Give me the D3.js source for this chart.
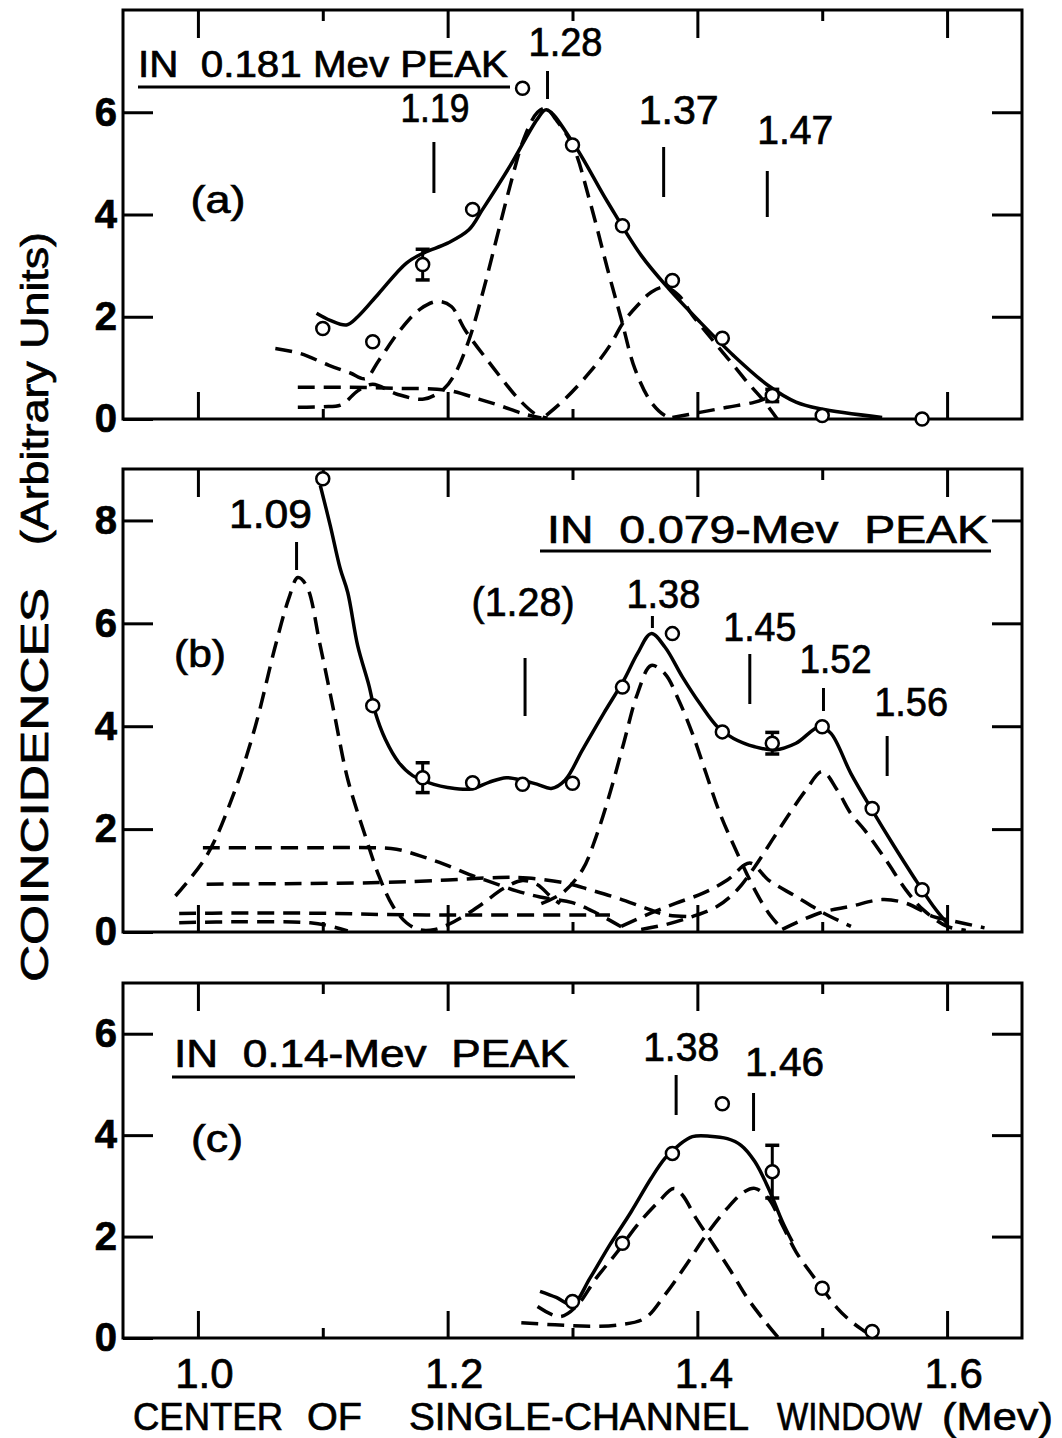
<!DOCTYPE html>
<html>
<head>
<meta charset="utf-8">
<script src="https://cdn.jsdelivr.net/npm/d3@7/dist/d3.min.js"></script>
<style>
  body { margin: 0; background: #fff; }
  text { font-family: "Liberation Sans", Arial, sans-serif; fill: #000; stroke: #000; stroke-width: 0.7px; white-space: pre; }
</style>
</head>
<body>
<div id="chart"></div>
<script>
// shared x axis
var xMajor = [1.0, 1.2, 1.4, 1.6];
var xMinor = [1.1, 1.3, 1.5];

// ---- panel (a): in 0.181 Mev peak
var aYTicks = [0, 2, 4, 6];
var aPoints = [[1.10,1.77],[1.14,1.51],[1.18,3.02],[1.22,4.10],[1.26,6.47],[1.30,5.36],[1.34,3.78],[1.38,2.71],[1.42,1.58],[1.46,0.46],[1.50,0.07],[1.58,0.0]];
var aErrors = [[1.18,3.02,0.3],[1.46,0.46,0.12]];
var aSolid = [[1.095,2.07],[1.106,1.93],[1.119,1.84],[1.128,2.0],[1.145,2.46],[1.167,3.05],[1.181,3.25],[1.2,3.44],[1.217,3.7],[1.228,4.1],[1.25,4.95],[1.272,5.87],[1.279,6.05],[1.3,5.42],[1.328,4.25],[1.355,3.2],[1.377,2.55],[1.402,1.9],[1.429,1.24],[1.457,0.65],[1.479,0.33],[1.498,0.2],[1.548,0.03]];
var aDashed = [
  [[1.062,1.38],[1.082,1.28],[1.105,1.05],[1.122,0.9],[1.134,0.79],[1.145,1.15],[1.162,1.74],[1.178,2.15],[1.192,2.3],[1.203,2.2],[1.214,1.74],[1.236,1.02],[1.258,0.36],[1.272,0.07],[1.28,0.02]],
  [[1.08,0.62],[1.12,0.62],[1.16,0.6],[1.2,0.56],[1.225,0.39],[1.242,0.26],[1.261,0.1],[1.275,0.02]],
  [[1.08,0.23],[1.1,0.24],[1.115,0.28],[1.128,0.55],[1.14,0.68],[1.159,0.49],[1.181,0.39],[1.197,0.59],[1.206,0.89],[1.217,1.54],[1.228,2.46],[1.239,3.51],[1.25,4.56],[1.261,5.48],[1.272,6.0],[1.279,6.08],[1.286,5.88],[1.30,5.36],[1.314,4.25],[1.328,2.94],[1.339,1.96],[1.35,0.98],[1.363,0.33],[1.374,0.07],[1.38,0.03]],
  [[1.279,0.07],[1.294,0.39],[1.314,0.92],[1.33,1.44],[1.341,1.9],[1.352,2.22],[1.363,2.48],[1.374,2.58],[1.385,2.42],[1.396,2.03],[1.407,1.7],[1.418,1.37],[1.429,1.05],[1.44,0.72],[1.452,0.39],[1.464,0.0]],
  [[1.38,0.03],[1.402,0.13],[1.424,0.23],[1.446,0.33],[1.46,0.45]]
];
var aPeakLabels = ["1.19", "1.28", "1.37", "1.47"];
var aPeakAt = [1.189, 1.280, 1.373, 1.456];

// ---- panel (b): in 0.079-Mev peak
var bYTicks = [0, 2, 4, 6, 8];
var bPoints = [[1.10,8.81],[1.14,4.40],[1.18,3.0],[1.22,2.9],[1.26,2.87],[1.30,2.89],[1.34,4.76],[1.38,5.8],[1.42,3.89],[1.46,3.67],[1.50,3.99],[1.54,2.40],[1.58,0.82]];
var bErrors = [[1.18,3.0,0.29],[1.46,3.67,0.21]];
var bSolid = [[1.098,8.68],[1.106,7.9],[1.114,7.06],[1.12,6.6],[1.128,5.56],[1.137,4.79],[1.142,4.27],[1.15,3.75],[1.161,3.29],[1.172,3.04],[1.189,2.87],[1.2,2.81],[1.219,2.78],[1.233,2.91],[1.247,3.0],[1.261,2.94],[1.272,2.87],[1.283,2.79],[1.294,2.95],[1.308,3.54],[1.325,4.25],[1.341,4.89],[1.352,5.41],[1.363,5.8],[1.374,5.54],[1.388,4.96],[1.402,4.44],[1.416,3.99],[1.429,3.76],[1.446,3.6],[1.462,3.54],[1.479,3.67],[1.498,3.99],[1.507,3.86],[1.523,3.08],[1.54,2.37],[1.556,1.73],[1.573,1.08],[1.589,0.5],[1.6,0.17]];
var bDashed = [
  [[0.982,0.7],[1.007,1.48],[1.029,2.71],[1.046,4.0],[1.062,5.56],[1.073,6.5],[1.08,6.89],[1.087,6.73],[1.098,5.56],[1.109,4.27],[1.12,2.97],[1.134,1.87],[1.145,1.09],[1.156,0.51],[1.167,0.18],[1.178,0.04],[1.19,0.05],[1.205,0.2],[1.225,0.5],[1.245,0.85],[1.26,1.0],[1.272,0.92],[1.282,0.7],[1.29,0.55]],
  [[1.004,1.64],[1.05,1.64],[1.1,1.64],[1.14,1.64],[1.159,1.61],[1.178,1.48],[1.197,1.32],[1.217,1.12],[1.236,0.96],[1.255,0.8],[1.274,0.68],[1.3,0.57],[1.319,0.37],[1.339,0.1]],
  [[1.007,0.93],[1.07,0.94],[1.145,0.96],[1.2,1.01],[1.241,1.06],[1.264,1.05],[1.295,0.95],[1.314,0.82],[1.336,0.66],[1.358,0.47],[1.374,0.34],[1.395,0.3]],
  [[0.985,0.36],[1.03,0.37],[1.07,0.37],[1.11,0.36],[1.15,0.34],[1.2,0.33],[1.25,0.33],[1.3,0.33],[1.33,0.33]],
  [[0.985,0.18],[1.034,0.2],[1.09,0.18],[1.105,0.12],[1.12,0.02]],
  [[1.275,0.55],[1.292,0.76],[1.308,1.21],[1.319,1.86],[1.33,2.7],[1.341,3.67],[1.352,4.63],[1.363,5.18],[1.374,5.02],[1.385,4.51],[1.396,3.86],[1.407,3.08],[1.418,2.31],[1.432,1.53],[1.446,0.82],[1.457,0.37],[1.468,0.05]],
  [[1.339,0.11],[1.363,0.37],[1.383,0.56],[1.405,0.76],[1.424,1.01],[1.442,1.34],[1.457,1.01],[1.479,0.69],[1.501,0.37],[1.523,0.11]],
  [[1.355,0.05],[1.374,0.14],[1.396,0.3],[1.416,0.5],[1.432,0.82],[1.446,1.27],[1.46,1.79],[1.474,2.31],[1.487,2.76],[1.5,3.12],[1.512,2.76],[1.523,2.3],[1.534,1.98],[1.551,1.4],[1.567,0.82],[1.581,0.43],[1.6,0.11],[1.615,0.03]],
  [[1.468,0.05],[1.498,0.37],[1.523,0.5],[1.548,0.63],[1.567,0.56],[1.589,0.3],[1.6,0.24],[1.63,0.08]]
];
var bPeakLabels = ["1.09", "(1.28)", "1.38", "1.45", "1.52", "1.56"];
var bPeakAt = [1.079, 1.262, 1.364, 1.442, 1.501, 1.552];

// ---- panel (c): in 0.14-Mev peak
var cYTicks = [0, 2, 4, 6];
var cPoints = [[1.30,0.72],[1.34,1.87],[1.38,3.64],[1.42,4.62],[1.46,3.28],[1.50,0.98],[1.54,0.13]];
var cErrors = [[1.46,3.28,0.52]];
var cSolid = [[1.274,0.92],[1.287,0.8],[1.30,0.66],[1.314,1.18],[1.33,1.84],[1.347,2.49],[1.363,3.15],[1.374,3.54],[1.385,3.8],[1.396,3.97],[1.41,3.98],[1.424,3.93],[1.435,3.8],[1.446,3.48],[1.457,2.95],[1.468,2.3],[1.476,1.9]];
var cDashed = [
  [[1.272,0.62],[1.29,0.42],[1.303,0.62],[1.319,1.18],[1.336,1.7],[1.352,2.23],[1.369,2.69],[1.381,2.95],[1.388,2.82],[1.399,2.36],[1.413,1.84],[1.427,1.31],[1.44,0.79],[1.454,0.33],[1.465,0.0]],
  [[1.259,0.3],[1.286,0.26],[1.314,0.23],[1.338,0.26],[1.358,0.39],[1.374,0.85],[1.391,1.44],[1.407,2.03],[1.424,2.56],[1.438,2.89],[1.446,2.95],[1.457,2.75],[1.468,2.23],[1.479,1.7],[1.49,1.31],[1.5,0.98],[1.512,0.59],[1.523,0.33],[1.534,0.13],[1.54,0.03]]
];
var cPeakLabels = ["1.38", "1.46"];
var cPeakAt = [1.383, 1.445];

var W = 1062, H = 1438;
var svg = d3.select("#chart").append("svg")
    .attr("width", W).attr("height", H)
    .attr("viewBox", "0 0 " + W + " " + H);

var x = d3.scaleLinear().domain([0.94, 1.66]).range([123, 1022]);

var line = d3.line()
    .x(function(d) { return x(d[0]); })
    .curve(d3.curveCatmullRom.alpha(0.5));

// layout of each panel (pixel positions only)
var panels = [
  { name: "(a)", top: 10, bottom: 419, yMax: 8, yTicks: aYTicks, points: aPoints, errors: aErrors, solid: aSolid, dashed: aDashed,
    peakLabels: aPeakLabels, peakAt: aPeakAt,
    peakLayout: [{dx:1,base:122,w:69,y1:142,y2:193},{dx:18,base:56,w:74,y1:71,y2:99},{dx:15,base:124,w:80,y1:147,y2:197},{dx:28,base:144,w:76,y1:171,y2:217}],
    title: "IN  0.181 Mev PEAK", titleX: 138, titleBase: 77, titleW: 370, titleSize: 36, ul: [138, 510, 87],
    tag: [218, 213, 55] },
  { name: "(b)", top: 469, bottom: 932, yMax: 9, yTicks: bYTicks, points: bPoints, errors: bErrors, solid: bSolid, dashed: bDashed,
    peakLabels: bPeakLabels, peakAt: bPeakAt,
    peakLayout: [{dx:-26,base:528,w:83,y1:542,y2:570},{dx:-2,base:616,w:103,y1:658,y2:716},{dx:11,base:608,w:74,y1:616,y2:628},{dx:10,base:641,w:73,y1:654,y2:704},{dx:12,base:673,w:72,y1:688,y2:711},{dx:24,base:716,w:74,y1:736,y2:776}],
    title: "IN  0.079-Mev  PEAK", titleX: 547, titleBase: 543, titleW: 441, titleSize: 38, ul: [540, 991, 551],
    tag: [200, 667, 52] },
  { name: "(c)", top: 983, bottom: 1338, yMax: 7, yTicks: cYTicks, points: cPoints, errors: cErrors, solid: cSolid, dashed: cDashed,
    peakLabels: cPeakLabels, peakAt: cPeakAt,
    peakLayout: [{dx:5,base:1061,w:76,y1:1075,y2:1115},{dx:31,base:1076,w:79,y1:1093,y2:1131}],
    title: "IN  0.14-Mev  PEAK", titleX: 174, titleBase: 1067, titleW: 395, titleSize: 38, ul: [172, 575, 1077],
    tag: [217, 1152, 52] }
];

function drawPanel(p, isLast) {
  var y = d3.scaleLinear().domain([0, p.yMax]).range([p.bottom, p.top]);
  var g = svg.append("g");
  line.y(function(d) { return y(d[1]); });

  // y ticks, left with labels, right without
  var left = g.append("g").attr("transform", "translate(" + x.range()[0] + ",0)")
      .call(d3.axisLeft(y).tickValues(p.yTicks).tickSize(-30).tickPadding(6).tickFormat(d3.format("d")));
  left.select(".domain").remove();
  left.selectAll("line").attr("stroke", "#000").attr("stroke-width", 3);
  left.selectAll("text").attr("font-family", "'DejaVu Sans', sans-serif")
      .attr("font-weight", "bold").attr("font-size", 40).attr("fill", "#000");

  var right = g.append("g").attr("transform", "translate(" + x.range()[1] + ",0)")
      .call(d3.axisRight(y).tickValues(p.yTicks.filter(function(t) { return t > 0; })).tickSize(-30).tickFormat(""));
  right.select(".domain").remove();
  right.selectAll("line").attr("stroke", "#000").attr("stroke-width", 3);

  // x ticks top & bottom, long majors short minors
  [[xMajor, 28], [xMinor, 11]].forEach(function(set) {
    var top = g.append("g").attr("transform", "translate(0," + p.top + ")")
        .call(d3.axisTop(x).tickValues(set[0]).tickSize(-set[1]).tickFormat(""));
    var bot = g.append("g").attr("transform", "translate(0," + p.bottom + ")")
        .call(d3.axisBottom(x).tickValues(set[0]).tickSize(-set[1] + 1).tickFormat(""));
    [top, bot].forEach(function(a) {
      a.select(".domain").remove();
      a.selectAll("line").attr("stroke", "#000").attr("stroke-width", 3);
    });
  });

  if (isLast) {
    var lab = g.append("g").attr("transform", "translate(0," + p.bottom + ")")
        .call(d3.axisBottom(x).tickValues(xMajor).tickSize(0).tickPadding(20).tickFormat(d3.format(".1f")));
    lab.select(".domain").remove();
    lab.selectAll("text").attr("font-size", 42).attr("dx", 6).attr("fill", "#000")
        .attr("font-family", "'Liberation Sans', Arial, sans-serif");
  }

  // frame
  g.append("rect")
      .attr("x", x.range()[0]).attr("y", p.top)
      .attr("width", x.range()[1] - x.range()[0]).attr("height", p.bottom - p.top)
      .attr("fill", "none").attr("stroke", "#000").attr("stroke-width", 3);

  // components
  g.selectAll(".comp").data(p.dashed).enter().append("path")
      .attr("class", "comp")
      .attr("d", line)
      .attr("fill", "none").attr("stroke", "#000").attr("stroke-width", 3.5)
      .attr("stroke-dasharray", "17 9");

  g.append("path").datum(p.solid)
      .attr("d", line)
      .attr("fill", "none").attr("stroke", "#000").attr("stroke-width", 3.5);

  // error bars
  var eb = g.selectAll(".err").data(p.errors).enter().append("g").attr("class", "err");
  eb.append("line")
      .attr("x1", function(d) { return x(d[0]); }).attr("x2", function(d) { return x(d[0]); })
      .attr("y1", function(d) { return y(d[1] + d[2]); }).attr("y2", function(d) { return y(d[1] - d[2]); })
      .attr("stroke", "#000").attr("stroke-width", 3);
  [1, -1].forEach(function(s) {
    eb.append("line")
        .attr("x1", function(d) { return x(d[0]) - 7; }).attr("x2", function(d) { return x(d[0]) + 7; })
        .attr("y1", function(d) { return y(d[1] + s * d[2]); }).attr("y2", function(d) { return y(d[1] + s * d[2]); })
        .attr("stroke", "#000").attr("stroke-width", 3.5);
  });

  // data points
  g.selectAll(".pt").data(p.points).enter().append("circle")
      .attr("class", "pt")
      .attr("cx", function(d) { return x(d[0]); })
      .attr("cy", function(d) { return y(d[1]); })
      .attr("r", 6.5)
      .attr("fill", "#fff").attr("stroke", "#000").attr("stroke-width", 2.5);

  // peak markers and labels
  p.peakLabels.forEach(function(t, i) {
    var L = p.peakLayout[i];
    var px = x(p.peakAt[i]);
    g.append("line").attr("x1", px).attr("x2", px).attr("y1", L.y1).attr("y2", L.y2)
        .attr("stroke", "#000").attr("stroke-width", 3);
    g.append("text").attr("x", px + L.dx).attr("y", L.base)
        .attr("text-anchor", "middle").attr("font-size", 40)
        .attr("textLength", L.w).attr("lengthAdjust", "spacingAndGlyphs")
        .text(t);
  });

  // panel title, underline and tag
  g.append("text").attr("x", p.titleX).attr("y", p.titleBase)
      .attr("font-size", p.titleSize)
      .attr("textLength", p.titleW).attr("lengthAdjust", "spacingAndGlyphs")
      .text(p.title);
  g.append("line").attr("x1", p.ul[0]).attr("x2", p.ul[1]).attr("y1", p.ul[2]).attr("y2", p.ul[2])
      .attr("stroke", "#000").attr("stroke-width", 3);
  g.append("text").attr("x", p.tag[0]).attr("y", p.tag[1])
      .attr("text-anchor", "middle").attr("font-size", 38)
      .attr("textLength", p.tag[2]).attr("lengthAdjust", "spacingAndGlyphs")
      .text(p.name);
}

panels.forEach(function(p, i) { drawPanel(p, i === panels.length - 1); });

// x axis title, word by word to follow the lettering spacing
var xTitleWords = ["CENTER", "OF", "SINGLE-CHANNEL", "WINDOW", "(Mev)"];
var xTitleSpan = [[133, 283], [307, 362], [409, 749], [777, 922], [942, 1053]];
xTitleWords.forEach(function(w, i) {
  svg.append("text").attr("x", xTitleSpan[i][0]).attr("y", 1430)
      .attr("font-size", 38)
      .attr("textLength", xTitleSpan[i][1] - xTitleSpan[i][0]).attr("lengthAdjust", "spacingAndGlyphs")
      .text(w);
});

// y axis title
var yTitleWords = ["COINCIDENCES", "(Arbitrary Units)"];
var yTitleSpan = [[982, 588], [545, 232]];
yTitleWords.forEach(function(w, i) {
  svg.append("text")
      .attr("transform", "translate(48," + yTitleSpan[i][0] + ") rotate(-90)")
      .attr("font-size", 38)
      .attr("textLength", yTitleSpan[i][0] - yTitleSpan[i][1]).attr("lengthAdjust", "spacingAndGlyphs")
      .text(w);
});
</script>
</body>
</html>
